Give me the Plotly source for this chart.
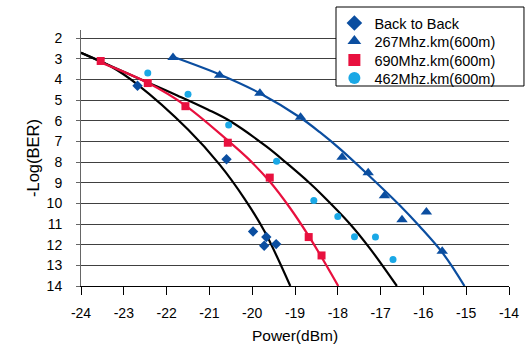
import plotly.graph_objects as go

# ---- data ----
b2b_x = [-22.68, -20.60, -19.98, -19.67, -19.72, -19.44]
b2b_y = [4.30, 7.86, 11.36, 11.63, 12.05, 11.97]

f267_x = [-21.85, -20.76, -19.82, -18.87, -17.90, -17.29, -16.91, -16.50, -15.93, -15.56]
f267_y = [2.93, 3.79, 4.66, 5.83, 7.76, 8.51, 9.63, 10.79, 10.42, 12.32]

f690_x = [-23.54, -22.44, -21.56, -20.57, -19.59, -18.68, -18.38]
f690_y = [3.10, 4.17, 5.29, 7.06, 8.75, 11.63, 12.52]

f462_x = [-22.44, -21.50, -20.55, -19.43, -18.56, -18.00, -17.61, -17.12, -16.71]
f462_y = [3.68, 4.71, 6.20, 7.96, 9.86, 10.63, 11.61, 11.63, 12.72]

# fitted trend curves
fitA_x = [-24.0, -23.3, -22.7, -21.5, -20.76, -20.17, -19.71, -19.11]
fitA_y = [2.70, 3.37, 4.21, 6.42, 8.12, 9.80, 11.36, 14.0]

fitB_x = [-24.0, -22.44, -21.74, -21.04, -20.52, -19.67, -19.2, -18.66, -18.42, -17.72, -17.26, -16.62]
fitB_y = [2.70, 4.14, 4.78, 5.45, 6.01, 7.24, 8.04, 9.01, 9.48, 10.98, 12.15, 14.0]

fit690_x = [-23.6, -22.44, -21.56, -20.57, -20.1, -19.59, -19.12, -18.70, -18.42, -17.99]
fit690_y = [3.12, 4.16, 5.26, 6.95, 7.82, 8.94, 10.21, 11.51, 12.46, 14.0]

fit267_x = [-21.85, -20.72, -19.82, -18.87, -18.42, -17.95, -17.30, -16.56, -16.09, -15.54, -15.04]
fit267_y = [2.90, 3.79, 4.66, 5.85, 6.55, 7.36, 8.60, 10.08, 11.11, 12.43, 14.0]

y_ticks = list(range(2, 15))
x_ticks = list(range(-24, -13))

BLUE = "#0B4EA0"
RED = "#E8103E"
CYAN = "#1AA8E6"
FONT = "Liberation Sans"

fig = go.Figure()

for xs, ys, col in [(fitA_x, fitA_y, "black"), (fitB_x, fitB_y, "black"),
                    (fit690_x, fit690_y, RED), (fit267_x, fit267_y, BLUE)]:
    fig.add_trace(go.Scatter(x=xs, y=ys, mode="lines", showlegend=False,
                             hoverinfo="skip",
                             line=dict(color=col, width=2.2, shape="spline", smoothing=1)))

fig.add_trace(go.Scatter(x=b2b_x, y=b2b_y, mode="markers", name="Back to Back",
                         legend="legend",
                         marker=dict(symbol="diamond", size=8, color=BLUE)))
fig.add_trace(go.Scatter(x=f267_x, y=f267_y, mode="markers", name="267Mhz.km(600m)",
                         legend="legend2",
                         marker=dict(symbol="triangle-up", size=10, color=BLUE)))
fig.add_trace(go.Scatter(x=f690_x, y=f690_y, mode="markers", name="690Mhz.km(600m)",
                         legend="legend3",
                         marker=dict(symbol="square", size=8, color=RED)))
fig.add_trace(go.Scatter(x=f462_x, y=f462_y, mode="markers", name="462Mhz.km(600m)",
                         legend="legend4",
                         marker=dict(symbol="circle", size=7, color=CYAN)))

# legend frame (white box with black border)
fig.add_shape(type="rect", xref="paper", yref="paper",
              x0=0.5958, x1=1.035, y0=0.7812, y1=1.0898,
              fillcolor="white", line=dict(color="black", width=1), layer="above")

def leg(ytop):
    return dict(x=0.592, y=ytop, xanchor="left", yanchor="top",
                bgcolor="rgba(0,0,0,0)", borderwidth=0,
                font=dict(family=FONT, size=14.5, color="black"),
                itemsizing="constant")

fig.update_layout(
    width=529, height=349,
    margin=dict(l=81, r=20, t=30, b=63, autoexpand=False),
    paper_bgcolor="white", plot_bgcolor="white",
    font=dict(family=FONT, size=14, color="black"),
    legend=leg(1.0898), legend2=leg(1.0195), legend3=leg(0.9453), legend4=leg(0.875),
    xaxis=dict(range=[-24, -14], tickvals=x_ticks, ticktext=[str(v) for v in x_ticks],
               showgrid=False, zeroline=False, showline=True, linecolor="black", linewidth=1,
               ticks="outside", ticklen=8, tickcolor="black", tickwidth=1,
               tickfont=dict(size=14), ticklabelstandoff=6, automargin=False,
               title=dict(text="Power(dBm)", font=dict(size=15.5), standoff=10)),
    yaxis=dict(range=[14, 1.6], tickvals=y_ticks, ticktext=[str(v) for v in y_ticks],
               showgrid=True, gridcolor="#404040", gridwidth=1, zeroline=False,
               showline=True, linecolor="#666666", linewidth=1,
               ticks="outside", ticklen=4, tickcolor="#666666",
               tickfont=dict(size=14), ticklabelstandoff=11, automargin=False,
               title=dict(text="-Log(BER)", font=dict(size=16.5), standoff=2)),
)

fig.write_html("out.html")
